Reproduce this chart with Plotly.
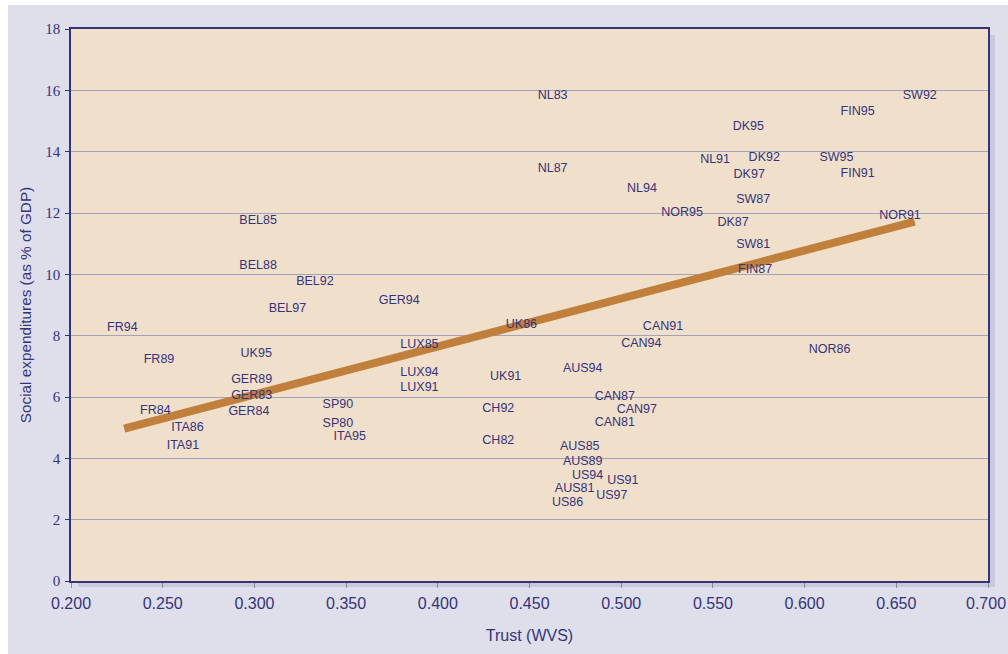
import plotly.graph_objects as go

# ---- data ----
labels = ["FR94", "FR89", "FR84", "ITA86", "ITA91", "BEL85", "BEL88", "BEL92", "BEL97",
          "GER94", "UK95", "GER89", "GER83", "GER84", "SP90", "SP80", "ITA95",
          "LUX85", "LUX94", "LUX91", "UK86", "UK91", "CH92", "CH82", "AUS94",
          "CAN91", "CAN94", "CAN87", "CAN97", "CAN81", "AUS85", "AUS89", "US94",
          "US91", "AUS81", "US97", "US86", "NL83", "NL87", "NL94", "NOR95",
          "NL91", "DK95", "DK92", "DK97", "SW87", "DK87", "SW81", "FIN87",
          "FIN95", "SW92", "SW95", "FIN91", "NOR91", "NOR86"]
trust = [0.228, 0.248, 0.246, 0.2635, 0.261, 0.302, 0.302, 0.333, 0.318,
         0.379, 0.301, 0.2985, 0.2985, 0.297, 0.3455, 0.3455, 0.352,
         0.390, 0.390, 0.390, 0.4456, 0.437, 0.433, 0.433, 0.479,
         0.5228, 0.511, 0.4965, 0.5085, 0.4965, 0.4774, 0.479, 0.4817,
         0.5009, 0.4746, 0.4949, 0.4708, 0.4626, 0.4626, 0.5113, 0.5332,
         0.5512, 0.5693, 0.578, 0.5698, 0.572, 0.561, 0.572, 0.573,
         0.6289, 0.6628, 0.6174, 0.6289, 0.652, 0.6136]
social_exp = [8.25, 7.21, 5.55, 5.00, 4.42, 11.75, 10.26, 9.77, 8.86,
              9.12, 7.40, 6.56, 6.04, 5.52, 5.75, 5.13, 4.71,
              7.69, 6.79, 6.30, 8.34, 6.66, 5.62, 4.58, 6.92,
              8.28, 7.73, 6.01, 5.58, 5.16, 4.38, 3.90, 3.44,
              3.25, 2.99, 2.79, 2.56, 15.81, 13.44, 12.79, 12.01,
              13.73, 14.81, 13.80, 13.25, 12.44, 11.69, 10.97, 10.13,
              15.29, 15.81, 13.80, 13.28, 11.92, 7.53]

# fitted trend line end points
trend_x = [0.229, 0.660]
trend_y = [4.97, 11.72]

x_ticks = [0.20, 0.25, 0.30, 0.35, 0.40, 0.45, 0.50, 0.55, 0.60, 0.65, 0.70]
y_ticks = [0, 2, 4, 6, 8, 10, 12, 14, 16, 18]

NAVY = "#34347a"
PANEL = "#dfdfeb"
PLOTBG = "#f0dfca"
SHADOW = "#c9c9de"
GRID = "#a3a3b8"
TREND = "#c07f3a"

fig = go.Figure()
fig.add_trace(go.Scatter(x=trend_x, y=trend_y, mode="lines",
                         line=dict(color=TREND, width=8), hoverinfo="skip",
                         showlegend=False))
fig.add_trace(go.Scatter(x=trust, y=social_exp, mode="text", text=labels,
                         textposition="middle center",
                         textfont=dict(family="Liberation Sans, Arial", size=12.5, color=NAVY),
                         showlegend=False))

# figure geometry (figure pixels; page body margin is 5px top, 8px left)
W, H = 1000, 649
L, R, T, B = 63, 980, 24, 578
pw, ph = R - L, B - T


def px(p):
    return (p - L) / pw


def py(p):
    return (B - p) / ph


shapes = [
    # drop shadow of plot area
    dict(type="rect", xref="paper", yref="paper", x0=px(R), x1=px(987), y0=py(584), y1=py(30),
         fillcolor=SHADOW, line=dict(width=0), layer="below"),
    dict(type="rect", xref="paper", yref="paper", x0=px(70), x1=px(987), y0=py(584), y1=py(B),
         fillcolor=SHADOW, line=dict(width=0), layer="below"),
]

XTICKFONT = dict(family="Liberation Sans, Arial", size=16, color=NAVY)

# last x tick label sits against the right page edge (clipped in the original)
annotations = [
    dict(text=f"{x_ticks[-1]:.3f}", xref="paper", yref="paper",
         x=px(W), y=py(600.5), xanchor="right", yanchor="middle",
         showarrow=False, font=XTICKFONT),
]

fig.update_layout(
    width=W, height=H,
    margin=dict(l=L, r=W - R, t=T, b=H - B),
    paper_bgcolor=PANEL,
    plot_bgcolor=PLOTBG,
    shapes=shapes,
    annotations=annotations,
    xaxis=dict(range=[0.2, 0.7], tickvals=x_ticks, tickformat=".3f",
               showgrid=False, zeroline=False,
               showline=True, linecolor=NAVY, linewidth=1.5, mirror=True,
               ticks="outside", ticklen=5, tickcolor="#8a8aa8", tickwidth=1,
               ticklabelstandoff=2,
               tickfont=XTICKFONT,
               title=dict(text="Trust (WVS)", standoff=19,
                          font=dict(family="Liberation Sans, Arial", size=16, color=NAVY))),
    yaxis=dict(range=[0, 18], tickvals=y_ticks,
               showgrid=True, gridcolor=GRID, gridwidth=1, zeroline=False,
               showline=True, linecolor=NAVY, linewidth=1.5, mirror=True,
               ticks="outside", ticklen=4, tickcolor=NAVY, tickwidth=1,
               ticklabelstandoff=2,
               tickfont=dict(family="Liberation Serif, Times New Roman", size=15, color=NAVY),
               title=dict(text="Social expenditures (as % of GDP)", standoff=10,
                          font=dict(family="Liberation Sans, Arial", size=15.3, color=NAVY))),
)

fig.write_html("out.html",
               post_script="document.body.style.margin='5px 0 0 8px';"
                           "document.body.style.overflow='hidden';")
